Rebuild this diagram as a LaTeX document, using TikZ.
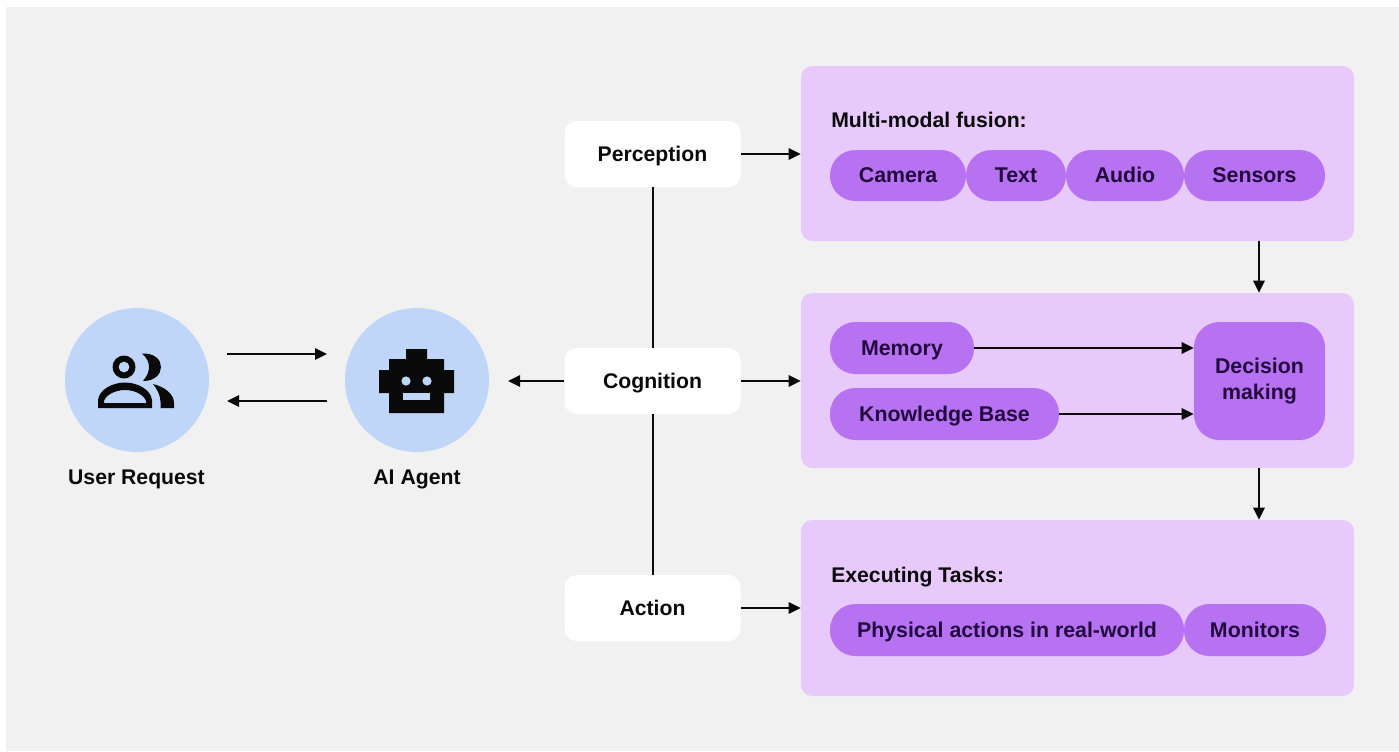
\documentclass[tikz,border=0pt]{standalone}
\usepackage{fontspec}
\setmainfont{Liberation Sans}
\usetikzlibrary{arrows.meta}
\definecolor{bgc}{HTML}{F1F1F1}
\definecolor{panelc}{HTML}{E8C9FC}
\definecolor{pillc}{HTML}{B672F0}
\definecolor{circc}{HTML}{BFD6F8}
\definecolor{inkc}{HTML}{0A0A0A}
\definecolor{pinkc}{HTML}{22083F}
\tikzset{
  x=0.75pt,y=-0.75pt,
  oneline/.style={text height=11.2pt,text depth=0pt},
  panel/.style={fill=panelc,rounded corners=8.5pt},
  pill/.style={fill=pillc,rounded corners=19pt},
  whitebox/.style={draw=none,fill=white,rounded corners=9pt,minimum width=132pt,minimum height=49.5pt,inner sep=0pt,oneline,font=\bfseries\fontsize{15.9}{18}\selectfont,text=inkc},
  disc/.style={circle,fill=circc,minimum size=108pt,inner sep=0pt},
  caplabel/.style={oneline,font=\bfseries\fontsize{15.9}{18}\selectfont,text=inkc,inner sep=0pt},
  pilltext/.style={font=\bfseries\fontsize{16}{19.5}\selectfont,text=pinkc,inner sep=0pt},
  conn/.style={draw=inkc,line width=1.5pt,-{Triangle[length=9pt,width=8.5pt]}},
  plainline/.style={draw=inkc,line width=1.5pt},
  icon/.style={fill=inkc,draw=none},
}
% a pill node spans its box by corner coordinates
\newcommand{\pillbox}[6]{\node[pill,pilltext,oneline,minimum width=#3*0.75pt-#1*0.75pt,minimum height=#4*0.75pt-#2*0.75pt,anchor=center] (#5) at ({(#1+#3)/2},{(#2+#4)/2}) {#6};}
\newcommand{\panelbox}[5]{\node[panel,minimum width=#3*0.75pt-#1*0.75pt,minimum height=#4*0.75pt-#2*0.75pt,inner sep=0pt,anchor=center] (#5) at ({(#1+#3)/2},{(#2+#4)/2}) {};}
\begin{document}
\begin{tikzpicture}
\useasboundingbox (0,0) rectangle (1399,751);
\fill[white] (0,0) rectangle (1399,751);
\fill[bgc] (6,7) rectangle (1399,751);

\panelbox{801}{66}{1354}{241}{pa}
\panelbox{801}{293}{1354}{468}{pb}
\panelbox{801}{520}{1354}{696}{pc}

\node[anchor=west,caplabel] (tfus) at (831,120) {Multi-modal fusion:};
\node[anchor=west,caplabel] (texe) at (831,575) {Executing Tasks:};

\pillbox{830}{150}{966}{201}{cam}{Camera}
\pillbox{966}{150}{1066}{201}{txt}{Text}
\pillbox{1066}{150}{1184}{201}{aud}{Audio}
\pillbox{1184}{150}{1325}{201}{sen}{Sensors}
\pillbox{830}{322}{974}{374}{mem}{Memory}
\pillbox{830}{388}{1059}{440}{kb}{Knowledge Base}
\node[pill,pilltext,minimum width=98.25pt,minimum height=88.5pt,align=center] (dec) at (1259.5,381) {Decision\\making};
\pillbox{830}{604}{1184}{656}{phy}{Physical actions in real-world}
\pillbox{1184}{604}{1326}{656}{mon}{Monitors}

\node[whitebox] (per) at (652.5,154) {Perception};
\node[whitebox] (cog) at (652.5,381) {Cognition};
\node[whitebox] (act) at (652.5,608) {Action};

\node[disc] (usr) at (137,380) {};
\node[disc] (agt) at (417,380) {};
\node[caplabel] (lusr) at (136.5,477) {User Request};
\node[caplabel] (lagt) at (417,477) {AI Agent};

% user icon
\fill[icon,even odd rule] (124,367) circle (11.5) (124,367) circle (5.5);
\fill[icon] (142,353.5) .. controls (155,353) and (161,360) .. (161,367) .. controls (161,374) and (155,381) .. (143,381) .. controls (147,376) and (149,372) .. (149,367) .. controls (149,362) and (147,358) .. (142,353.5) -- cycle;
\fill[icon,even odd rule] (98,408) -- (98,400) .. controls (99,390) and (112,382.5) .. (125,382.5) .. controls (138,382.5) and (151,390) .. (152,400) -- (152,408) -- cycle
  (104,403) -- (104,401) .. controls (106,395) and (115,390) .. (125,390) .. controls (135,390) and (144,395) .. (146,401) -- (146,403) -- cycle;
\fill[icon] (153,384) .. controls (165,387) and (174,394) .. (174,403) -- (174,408) -- (160.5,408) -- (160.5,402) .. controls (160.5,395) and (157,389) .. (153,384) -- cycle;

% robot icon
\fill[icon] (406,349) -- (427,349) -- (427,359) -- (444,359) -- (444,370) -- (454,370) -- (454,393) -- (444,393) -- (444,413) -- (389,413) -- (389,393) -- (379,393) -- (379,370) -- (389,370) -- (389,359) -- (406,359) -- cycle;
\fill[circc] (406,381) circle (4.6) (427,381) circle (4.6);
\fill[circc] (403,393) rectangle (430,400);

% connectors
\coordinate (uo) at (227,354);
\coordinate (ui) at (327,354);
\coordinate (ao) at (327,401);
\coordinate (ai) at (227,401);
\coordinate (ca) at (508,381);
\draw[conn] (uo) -- (ui);
\draw[conn] (ao) -- (ai);
\draw[conn] (cog.west) -- (ca);
\draw[plainline] (per.south) -- (cog.north);
\draw[plainline] (cog.south) -- (act.north);
\draw[conn] (per.east) -- (per.east -| pa.west);
\draw[conn] (cog.east) -- (cog.east -| pb.west);
\draw[conn] (act.east) -- (act.east -| pc.west);
\coordinate (dn) at (1259,0);
\draw[conn] (dn |- pa.south) -- (dn |- pb.north);
\draw[conn] (dn |- pb.south) -- (dn |- pc.north);
\draw[conn] (mem.east) -- (mem.east -| dec.west);
\draw[conn] (kb.east) -- (kb.east -| dec.west);
\end{tikzpicture}
\end{document}
